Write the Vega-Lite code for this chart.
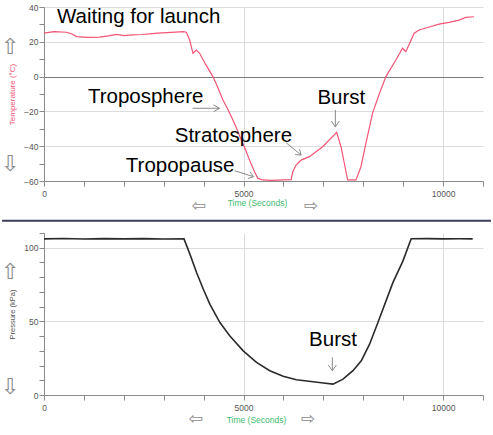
{
  "$schema": "https://vega.github.io/schema/vega-lite/v6.json",
  "padding": {"top": 3, "left": 0, "right": 0, "bottom": 0},
  "spacing": 4,
  "config": {
    "view": {"stroke": null},
    "font": "Liberation Sans",
    "axis": {
      "domainColor": "#8a8a8a",
      "tickColor": "#8a8a8a",
      "tickSize": 5,
      "labelColor": "#555555",
      "labelFontSize": 8.5,
      "labelFont": "Liberation Sans",
      "labelPadding": 1,
      "labelOverlap": false,
      "labelFlush": false,
      "labelBound": false,
      "gridColor": "#dcdcdc",
      "titleFontWeight": "normal",
      "titleFont": "Liberation Sans"
    }
  },
  "datasets": {
    "temperature": [
      {"t": 0, "T": 25}, {"t": 250, "T": 25.8}, {"t": 567, "T": 25.5}, {"t": 700, "T": 24.5},
      {"t": 817, "T": 23}, {"t": 1100, "T": 22.6}, {"t": 1400, "T": 22.7}, {"t": 1650, "T": 23.5},
      {"t": 1817, "T": 24.3}, {"t": 2000, "T": 23.6}, {"t": 2225, "T": 24}, {"t": 2450, "T": 24.2},
      {"t": 2650, "T": 24.5}, {"t": 2850, "T": 25}, {"t": 3067, "T": 25.3}, {"t": 3300, "T": 25.6},
      {"t": 3483, "T": 25.8}, {"t": 3567, "T": 25.5}, {"t": 3650, "T": 21}, {"t": 3733, "T": 13.4},
      {"t": 3817, "T": 15.3}, {"t": 3900, "T": 13.4}, {"t": 4050, "T": 7}, {"t": 4233, "T": 0},
      {"t": 4350, "T": -6}, {"t": 4483, "T": -13.4}, {"t": 4600, "T": -18.5}, {"t": 4733, "T": -25},
      {"t": 4850, "T": -31}, {"t": 4942, "T": -36.4}, {"t": 5050, "T": -42}, {"t": 5150, "T": -48},
      {"t": 5275, "T": -54.7}, {"t": 5358, "T": -58.5}, {"t": 5483, "T": -59.4}, {"t": 5700, "T": -59.6},
      {"t": 6000, "T": -59.4}, {"t": 6192, "T": -59.2}, {"t": 6233, "T": -54.7}, {"t": 6317, "T": -50.8},
      {"t": 6442, "T": -48}, {"t": 6650, "T": -46}, {"t": 6983, "T": -40.3}, {"t": 7333, "T": -32},
      {"t": 7442, "T": -40.3}, {"t": 7525, "T": -49.8}, {"t": 7608, "T": -59.4}, {"t": 7817, "T": -59.4},
      {"t": 7942, "T": -51.8}, {"t": 8067, "T": -38.3}, {"t": 8233, "T": -21}, {"t": 8400, "T": -10},
      {"t": 8567, "T": 0}, {"t": 8817, "T": 9.5}, {"t": 8983, "T": 16.3}, {"t": 9067, "T": 14.3},
      {"t": 9275, "T": 24.9}, {"t": 9400, "T": 26.8}, {"t": 9650, "T": 28.5}, {"t": 9900, "T": 30.2},
      {"t": 10150, "T": 31.2}, {"t": 10400, "T": 32.5}, {"t": 10567, "T": 34}, {"t": 10775, "T": 34.4}
    ],
    "pressure": [
      {"t": 0, "P": 106}, {"t": 500, "P": 106.3}, {"t": 1000, "P": 105.9}, {"t": 1500, "P": 106.2},
      {"t": 2000, "P": 106}, {"t": 2500, "P": 106.2}, {"t": 3000, "P": 105.9}, {"t": 3508, "P": 106},
      {"t": 3658, "P": 95.5}, {"t": 3825, "P": 83}, {"t": 3992, "P": 71.8}, {"t": 4158, "P": 61.6},
      {"t": 4408, "P": 49.2}, {"t": 4658, "P": 40.1}, {"t": 4992, "P": 30}, {"t": 5325, "P": 22.1},
      {"t": 5658, "P": 16.5}, {"t": 5992, "P": 12.7}, {"t": 6325, "P": 10.4}, {"t": 6742, "P": 9},
      {"t": 7000, "P": 8.2}, {"t": 7242, "P": 7.4}, {"t": 7492, "P": 10.8}, {"t": 7742, "P": 16.5},
      {"t": 7950, "P": 23.2}, {"t": 8158, "P": 34.5}, {"t": 8367, "P": 49.2}, {"t": 8742, "P": 76.3},
      {"t": 8992, "P": 90.9}, {"t": 9200, "P": 106.1}, {"t": 9600, "P": 106.2}, {"t": 10000, "P": 106},
      {"t": 10400, "P": 106.1}, {"t": 10742, "P": 106}
    ],
    "tempLabels": [
      {"x": 325, "y": 30.6, "text": "Waiting for launch"},
      {"x": 1100, "y": -15.3, "text": "Troposphere"},
      {"x": 3275, "y": -37.6, "text": "Stratosphere"},
      {"x": 2050, "y": -54.7, "text": "Tropopause"},
      {"x": 6850, "y": -15.7, "text": "Burst"}
    ],
    "tempArrows": [
      {"x": 3725, "y": -18.2, "x2": 4400, "y2": -18.2},
      {"x": 4250, "y": -16.3, "x2": 4400, "y2": -18.2},
      {"x": 4250, "y": -20.1, "x2": 4400, "y2": -18.2},
      {"x": 4775, "y": -54.1, "x2": 5250, "y2": -57.5},
      {"x": 5160, "y": -54.8, "x2": 5250, "y2": -57.5},
      {"x": 5108, "y": -58.6, "x2": 5250, "y2": -57.5},
      {"x": 6068, "y": -38, "x2": 6443, "y2": -45.1},
      {"x": 6403, "y": -41.7, "x2": 6443, "y2": -45.1},
      {"x": 6293, "y": -44.8, "x2": 6443, "y2": -45.1},
      {"x": 7300, "y": -19.2, "x2": 7300, "y2": -29},
      {"x": 7200, "y": -25.5, "x2": 7300, "y2": -29},
      {"x": 7400, "y": -25.5, "x2": 7300, "y2": -29}
    ],
    "tempGlyphs": [
      {"x": -850, "y": 17, "g": "⇧"},
      {"x": -850, "y": -50.2, "g": "⇩"},
      {"x": 3875, "y": -74.5, "g": "⇦"},
      {"x": 6688, "y": -74.5, "g": "⇨"}
    ],
    "presLabels": [
      {"x": 6642, "y": 33, "text": "Burst"}
    ],
    "presArrows": [
      {"x": 7225, "y": 25.5, "x2": 7225, "y2": 16.5},
      {"x": 7125, "y": 20.3, "x2": 7225, "y2": 16.5},
      {"x": 7325, "y": 20.3, "x2": 7225, "y2": 16.5}
    ],
    "presGlyphs": [
      {"x": -850, "y": 83.3, "g": "⇧"},
      {"x": -850, "y": 5.4, "g": "⇩"},
      {"x": 3800, "y": -16, "g": "⇦"},
      {"x": 6612, "y": -16, "g": "⇨"}
    ],
    "separator": [
      {"x": -1050, "y": 118.3, "x2": 11200, "y2": 118.3}
    ]
  },
  "vconcat": [
    {
      "width": 439,
      "height": 174,
      "layer": [
        {
          "data": {"name": "temperature"},
          "mark": {"type": "line", "color": "#f25576", "strokeWidth": 1.2},
          "encoding": {
            "x": {
              "field": "t", "type": "quantitative",
              "scale": {"domain": [0, 11000], "nice": false, "zero": false},
              "axis": {
                "values": [0, 1000, 2000, 3000, 4000, 5000, 6000, 7000, 8000, 9000, 10000, 11000],
                "tickCount": 100,
                "format": "d",
                "labelExpr": "datum.value % 5000 == 0 ? datum.label : ''",
                "gridOpacity": {"condition": {"test": "datum.value == 5000 || datum.value == 10000", "value": 1}, "value": 0},
                "labelPadding": 3,
                "title": "Time (Seconds)",
                "titleColor": "#3dbb70",
                "titleFontSize": 8.5,
                "titlePadding": 1,
                "titleX": 213
              }
            },
            "y": {
              "field": "T", "type": "quantitative",
              "scale": {"domain": [-60, 40], "nice": false, "zero": false},
              "axis": {
                "values": [-60, -50, -40, -30, -20, -10, 0, 10, 20, 30, 40],
                "tickCount": 100,
                "labelExpr": "datum.value % 20 == 0 ? datum.label : ''",
                "gridOpacity": {"condition": {"test": "datum.value % 20 == 0 && datum.value > -60", "value": 1}, "value": 0},
                "gridColor": {"condition": {"test": "datum.value == 0", "value": "#7a7a7a"}, "value": "#dcdcdc"},
                "title": "Temperature (°C)",
                "titleColor": "#f25576",
                "titleFontSize": 8,
                "titlePadding": 7
              }
            }
          }
        },
        {
          "data": {"name": "tempArrows"},
          "mark": {"type": "rule", "color": "#8a8a8a", "strokeWidth": 1},
          "encoding": {
            "x": {"field": "x", "type": "quantitative"},
            "y": {"field": "y", "type": "quantitative"},
            "x2": {"field": "x2"},
            "y2": {"field": "y2"}
          }
        },
        {
          "data": {"name": "tempLabels"},
          "mark": {"type": "text", "align": "left", "baseline": "alphabetic", "fontSize": 20.5, "font": "Liberation Sans", "color": "#000000"},
          "encoding": {
            "x": {"field": "x", "type": "quantitative"},
            "y": {"field": "y", "type": "quantitative"},
            "text": {"field": "text"}
          }
        },
        {
          "data": {"name": "tempGlyphs"},
          "transform": [{"filter": "datum.g == '⇧' || datum.g == '⇩'"}],
          "mark": {"type": "text", "align": "center", "baseline": "middle", "fontSize": 22, "font": "DejaVu Sans", "color": "#8a8a8a"},
          "encoding": {
            "x": {"field": "x", "type": "quantitative"},
            "y": {"field": "y", "type": "quantitative"},
            "text": {"field": "g"}
          }
        },
        {
          "data": {"name": "tempGlyphs"},
          "transform": [{"filter": "datum.g == '⇦' || datum.g == '⇨'"}],
          "mark": {"type": "text", "align": "center", "baseline": "middle", "fontSize": 17, "font": "DejaVu Sans", "color": "#8a8a8a"},
          "encoding": {
            "x": {"field": "x", "type": "quantitative"},
            "y": {"field": "y", "type": "quantitative"},
            "text": {"field": "g"}
          }
        }
      ]
    },
    {
      "width": 439,
      "height": 162,
      "layer": [
        {
          "data": {"name": "pressure"},
          "mark": {"type": "line", "color": "#2a2a2a", "strokeWidth": 1.6},
          "encoding": {
            "x": {
              "field": "t", "type": "quantitative",
              "scale": {"domain": [0, 11000], "nice": false, "zero": false},
              "axis": {
                "values": [0, 1000, 2000, 3000, 4000, 5000, 6000, 7000, 8000, 9000, 10000, 11000],
                "tickCount": 100,
                "format": "d",
                "labelExpr": "datum.value % 5000 == 0 ? datum.label : ''",
                "gridOpacity": {"condition": {"test": "datum.value == 5000 || datum.value == 10000", "value": 1}, "value": 0},
                "labelPadding": 3,
                "title": "Time (Seconds)",
                "titleColor": "#3dbb70",
                "titleFontSize": 8.5,
                "titlePadding": 4,
                "titleX": 212
              }
            },
            "y": {
              "field": "P", "type": "quantitative",
              "scale": {"domain": [0, 110], "nice": false, "zero": false},
              "axis": {
                "values": [0, 10, 20, 30, 40, 50, 60, 70, 80, 90, 100, 110],
                "tickCount": 100,
                "labelExpr": "datum.value % 50 == 0 ? datum.label : ''",
                "gridOpacity": {"condition": {"test": "datum.value == 50 || datum.value == 100", "value": 1}, "value": 0},
                "title": "Pressure (kPa)",
                "titleColor": "#555555",
                "titleFontSize": 7.5,
                "titlePadding": 7
              }
            }
          }
        },
        {
          "data": {"name": "presArrows"},
          "mark": {"type": "rule", "color": "#8a8a8a", "strokeWidth": 1},
          "encoding": {
            "x": {"field": "x", "type": "quantitative"},
            "y": {"field": "y", "type": "quantitative"},
            "x2": {"field": "x2"},
            "y2": {"field": "y2"}
          }
        },
        {
          "data": {"name": "separator"},
          "mark": {"type": "rule", "color": "#3c3c5c", "strokeWidth": 2},
          "encoding": {
            "x": {"field": "x", "type": "quantitative"},
            "y": {"field": "y", "type": "quantitative"},
            "x2": {"field": "x2"},
            "y2": {"field": "y2"}
          }
        },
        {
          "data": {"name": "presLabels"},
          "mark": {"type": "text", "align": "left", "baseline": "alphabetic", "fontSize": 20.5, "font": "Liberation Sans", "color": "#000000"},
          "encoding": {
            "x": {"field": "x", "type": "quantitative"},
            "y": {"field": "y", "type": "quantitative"},
            "text": {"field": "text"}
          }
        },
        {
          "data": {"name": "presGlyphs"},
          "transform": [{"filter": "datum.g == '⇧' || datum.g == '⇩'"}],
          "mark": {"type": "text", "align": "center", "baseline": "middle", "fontSize": 22, "font": "DejaVu Sans", "color": "#8a8a8a"},
          "encoding": {
            "x": {"field": "x", "type": "quantitative"},
            "y": {"field": "y", "type": "quantitative"},
            "text": {"field": "g"}
          }
        },
        {
          "data": {"name": "presGlyphs"},
          "transform": [{"filter": "datum.g == '⇦' || datum.g == '⇨'"}],
          "mark": {"type": "text", "align": "center", "baseline": "middle", "fontSize": 17, "font": "DejaVu Sans", "color": "#8a8a8a"},
          "encoding": {
            "x": {"field": "x", "type": "quantitative"},
            "y": {"field": "y", "type": "quantitative"},
            "text": {"field": "g"}
          }
        }
      ]
    }
  ]
}
